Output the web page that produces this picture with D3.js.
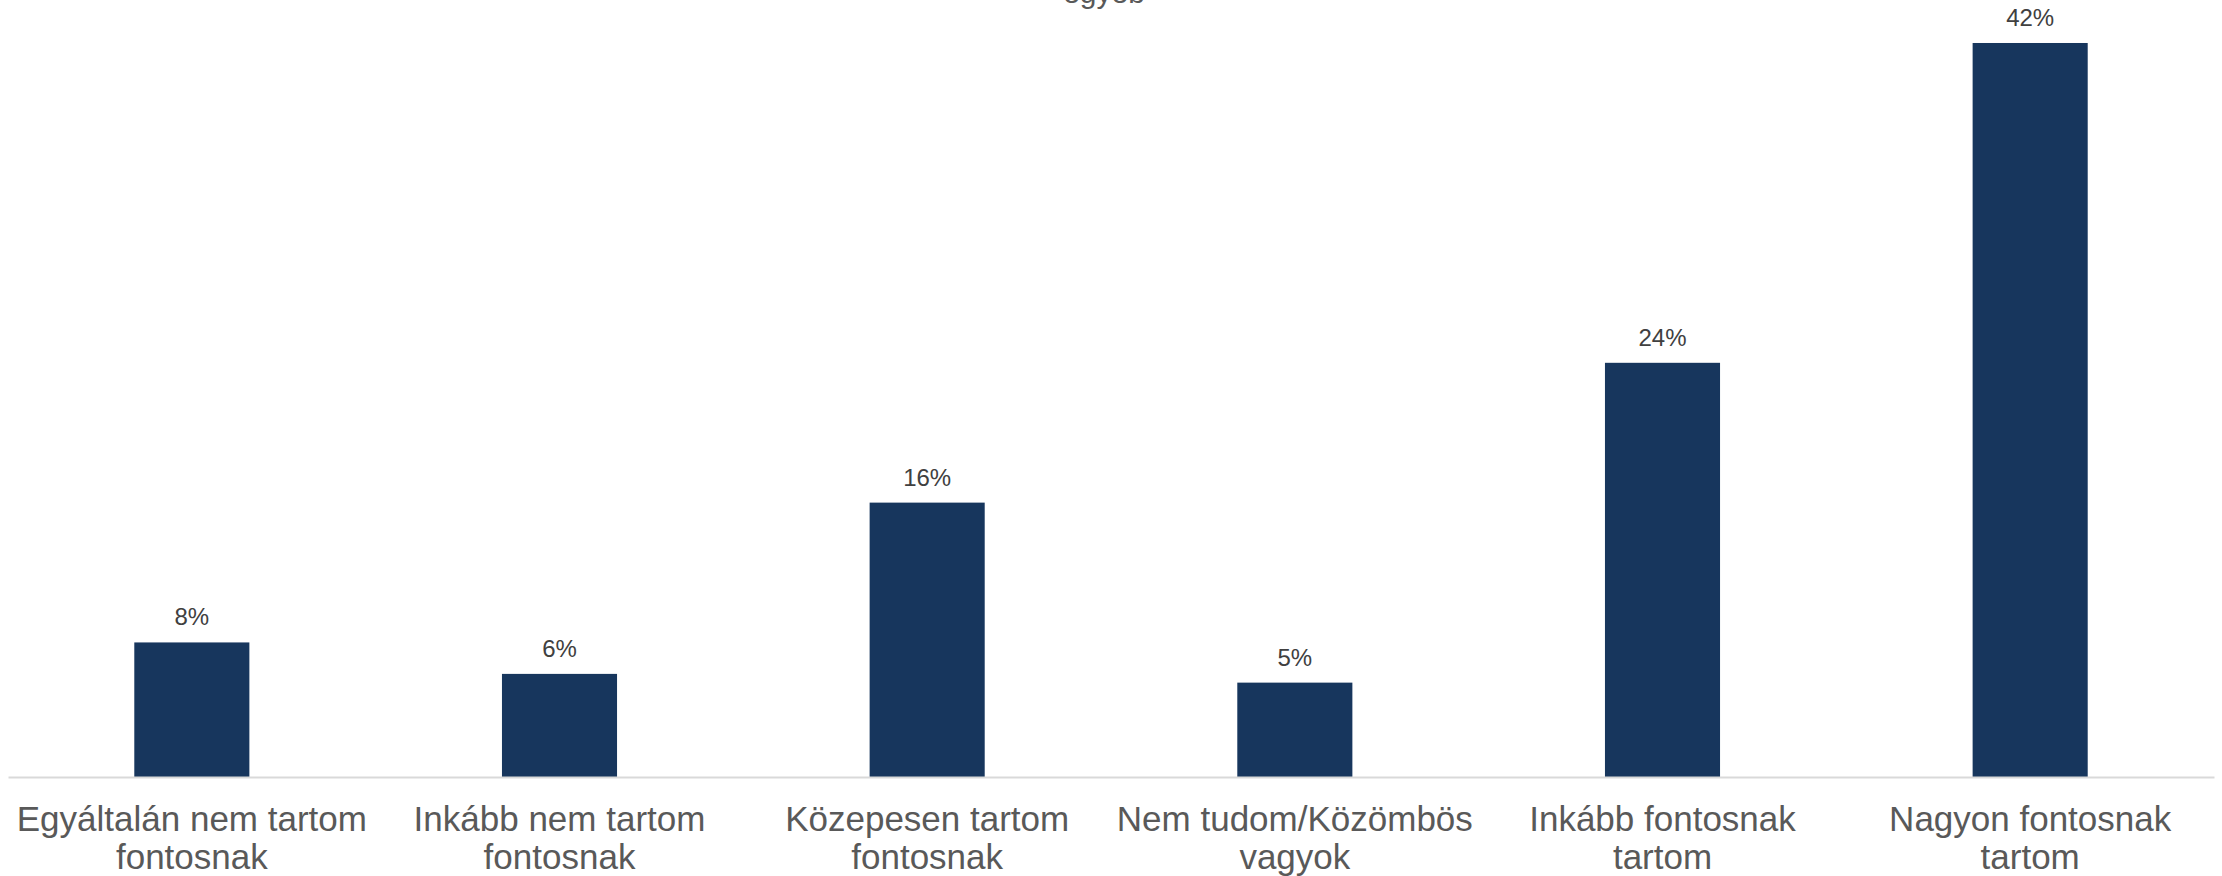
<!DOCTYPE html>
<html>
<head>
<meta charset="utf-8">
<script src="https://cdn.jsdelivr.net/npm/d3@7"></script>
<style>
  html, body { margin: 0; padding: 0; background: #ffffff; }
  svg { display: block; }
</style>
</head>
<body>
<svg id="chart" width="2222" height="876"></svg>
<script>
const categories = [
  ["Egyáltalán nem tartom", "fontosnak"],
  ["Inkább nem tartom", "fontosnak"],
  ["Közepesen tartom", "fontosnak"],
  ["Nem tudom/Közömbös", "vagyok"],
  ["Inkább fontosnak", "tartom"],
  ["Nagyon fontosnak", "tartom"]
];
const values = [7.7, 5.9, 15.7, 5.4, 23.7, 42.0];
const valueLabels = ["8%", "6%", "16%", "5%", "24%", "42%"];
const titleFragment = "egyéb";

const svg = d3.select("#chart");

const x = d3.scaleBand()
  .domain(d3.range(categories.length))
  .range([8, 2214])
  .paddingInner(0.687)
  .paddingOuter(0.3435);

const y = d3.scaleLinear().domain([0, 44.46]).range([777, 0]);

// title fragment (cut off at top, as in the reference)
svg.append("text")
  .attr("x", 1104).attr("y", 3)
  .attr("text-anchor", "middle")
  .attr("font-family", "Arial, 'Liberation Sans', sans-serif")
  .attr("font-size", 30)
  .attr("fill", "#595959")
  .text(titleFragment);

// bars
svg.append("g").selectAll("rect")
  .data(values)
  .join("rect")
  .attr("x", (d, i) => x(i))
  .attr("width", x.bandwidth())
  .attr("y", d => y(d))
  .attr("height", d => y(0) - y(d))
  .attr("fill", "#17365d");

// value labels
svg.append("g").selectAll("text")
  .data(values)
  .join("text")
  .attr("x", (d, i) => x(i) + x.bandwidth() / 2)
  .attr("y", d => y(d) - 17)
  .attr("text-anchor", "middle")
  .attr("font-family", "Arial, 'Liberation Sans', sans-serif")
  .attr("font-size", 24)
  .attr("fill", "#404040")
  .text((d, i) => valueLabels[i]);

// axis
const xAxis = d3.axisBottom(x).tickSize(0).tickFormat(() => "");
const ax = svg.append("g").attr("transform", `translate(0,${y(0)})`).call(xAxis);
ax.select(".domain").attr("stroke", "#d9d9d9").attr("stroke-width", 2);

// category labels
const lab = svg.append("g").selectAll("text")
  .data(categories)
  .join("text")
  .attr("text-anchor", "middle")
  .attr("font-family", "Arial, 'Liberation Sans', sans-serif")
  .attr("font-size", 35)
  .attr("fill", "#595959")
  .attr("transform", (d, i) => `translate(${x(i) + x.bandwidth() / 2},831)`);
lab.selectAll("tspan")
  .data(d => d)
  .join("tspan")
  .attr("x", 0)
  .attr("y", (d, j) => j * 38)
  .text(d => d);
</script>
</body>
</html>
